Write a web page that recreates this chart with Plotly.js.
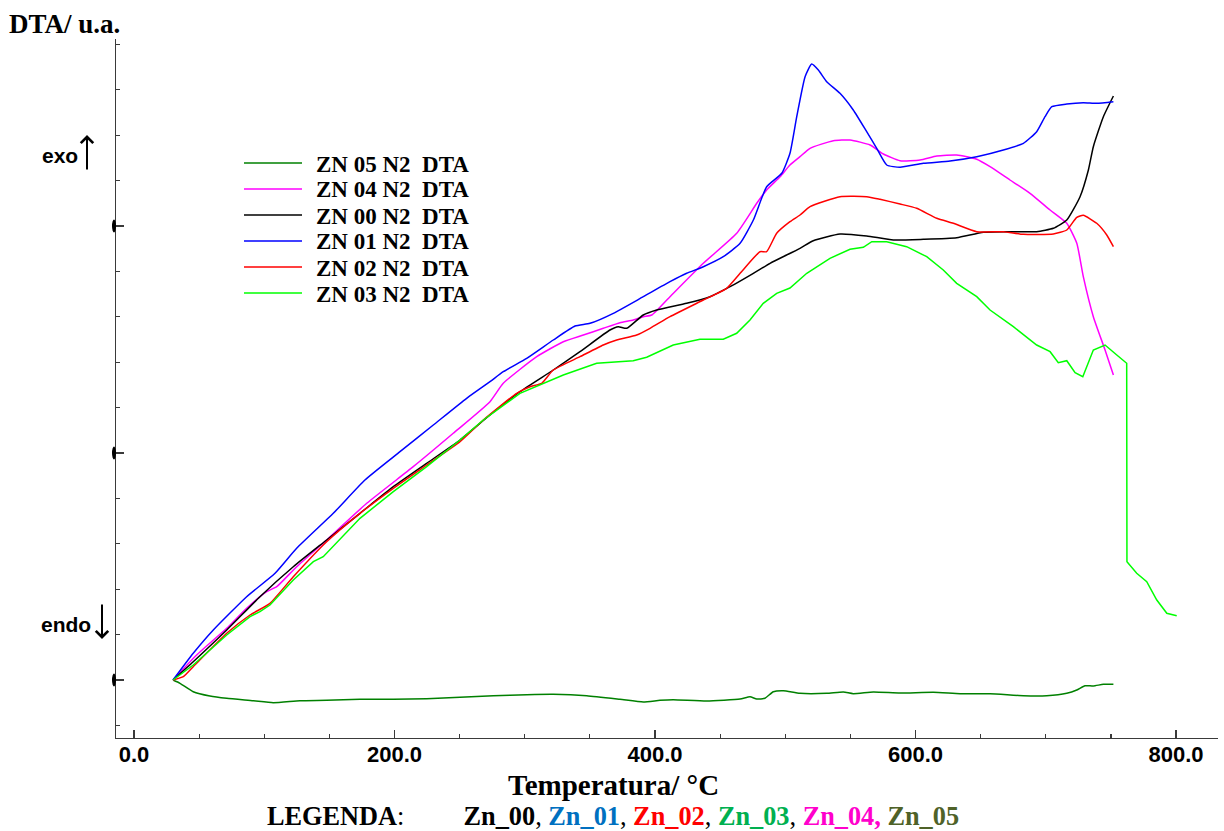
<!DOCTYPE html>
<html>
<head>
<meta charset="utf-8">
<script src="https://cdn.plot.ly/plotly-3.0.1.min.js"></script>
<style>
  html, body { margin: 0; padding: 0; background: #ffffff; }
  #chart { width: 1224px; height: 831px; }
</style>
</head>
<body>
<div id="chart"></div>
<script>
// ---- Data (temperature in °C, DTA signal in arbitrary units) ----
var seriesNames = ["ZN 05 N2\u00A0 DTA", "ZN 04 N2\u00A0 DTA", "ZN 00 N2\u00A0 DTA", "ZN 01 N2\u00A0 DTA", "ZN 02 N2\u00A0 DTA", "ZN 03 N2\u00A0 DTA"];
var seriesColors = ["#008000", "#FF00FF", "#000000", "#0000FF", "#FF0000", "#00FF00"];

var zn05_T = [30,35.3,45.5,58.3,71.2,91.6,106.9,127.4,147.9,173.5,199.1,224.7,250.3,275.9,301.5,321.9,347.6,373.1,391.0,403.8,414.0,439.7,465.3,472.9,478.1,484.4,490.8,498.5,511.3,531.8,544.6,552.2,567.6,588.1,613.7,634.2,657.2,682.8,700.7,716.1,723.8,730.1,736.5,744.2,751.9];
var zn05_V = [0,-3.3,-11.7,-16,-18.3,-20.7,-22.7,-20.7,-20.3,-19.3,-19.3,-18.7,-17.3,-15.7,-14.7,-14.3,-15.7,-19.3,-22,-20.3,-19.7,-21,-19,-16.7,-19,-18.3,-11.7,-10.7,-13.3,-13.3,-12,-13.7,-12,-13,-12.3,-13.7,-13.7,-15.7,-15.7,-13.3,-10,-5.7,-6,-4.3,-4.3];

var zn04_T = [30,48.1,71.2,86.5,101.9,109.6,124.9,147.9,178.7,214.4,245.1,273.3,283.5,309.2,329.6,345.0,360.3,373.1,383.3,391.0,397.5,411.5,437.1,462.7,478.1,485.7,496.0,503.6,511.3,519.0,536.9,549.7,565.1,575.3,588.1,603.5,616.3,631.6,647.0,657.2,672.5,687.9,703.3,716.1,723.8,728.8,736.5,745.5,751.9];
var zn04_V = [0,25,51.7,71.7,88.3,93.3,113.3,140,176.7,213.3,246.7,278.3,296.7,323.3,338.3,345,351.7,357.3,360,363.3,365,383.3,416.7,446.7,476.7,490,503.3,515,523.3,531.7,539.3,540,535,526,519.3,520,524,525,520.7,513.3,500,486.7,470,456.7,436.7,403.3,363.3,330,305];

var zn00_T = [30,45.5,71.2,96.7,122.3,147.9,173.5,199.1,224.7,250.3,273.3,296.3,321.9,342.4,365.4,371.8,378.3,391.0,401.3,424.3,442.2,457.6,475.5,488.3,511.3,521.5,542.0,562.5,583.0,606.0,631.6,652.1,672.5,693.0,705.8,716.1,726.3,732.7,736.5,744.2,751.9];
var zn00_V = [0,18.3,50,83.3,113.3,140,166.7,193.3,216.7,240,265,288.3,310,328.3,350,353.3,351.7,365,370,376.7,383.3,393.3,406.7,416.7,431.7,439.3,446,444,440,440.7,442.3,447.7,448.3,448.3,451.7,460,483.3,510,533.3,563.3,584];

var zn01_T = [30,45.5,60.9,86.5,108.3,124.9,153.0,177.3,204.2,229.8,255.4,273.3,283.5,301.5,321.9,338.6,350.1,368.0,391.0,411.5,424.3,437.1,452.4,465.3,475.5,485.7,497.3,503.6,508.8,515.2,520.3,525.4,531.8,542.0,552.2,562.5,570.2,577.9,588.1,606.0,626.5,647.0,667.4,682.8,693.0,699.4,704.6,716.1,728.8,739.1,751.9];
var zn01_V = [0,26.7,50,83.3,106.7,131.7,166.7,200,228.3,255,281.7,298.3,308.3,321.7,340,354,356.7,366.7,383.3,398.3,406.7,413.3,423.3,436.7,460,493.3,506.7,526.7,563.3,603.3,616,610,598.3,586.7,570,548.3,531.7,515,512.7,516.7,519,523.3,530,536.7,548.3,563.3,573.3,576,577.3,576.7,578.3];

var zn02_T = [30,37.9,45.5,71.2,89.1,104.4,122.3,147.9,173.5,199.1,224.7,250.3,268.2,293.8,304.0,313.0,321.9,342.4,360.3,370.6,385.9,396.2,411.5,437.1,455.0,465.3,480.6,485.7,493.4,503.6,511.3,519.0,542.0,562.5,572.7,588.1,600.9,616.3,629.0,647.0,667.4,682.8,705.8,716.1,723.8,728.8,739.1,746.8,751.9];
var zn02_V = [0,3.3,13.3,46.7,65,76.7,103.3,138.3,166.7,191.7,215,238.3,260,286.7,293.3,296.7,310,323.3,335,340,345,351.7,363.3,380,391.7,406.7,428.3,428.3,446.7,458.3,465,473.3,483.3,483.3,480.7,476,471.7,461.7,456.7,448.3,448.3,445.7,446,450,462.7,464.7,456.7,445,433.3];

var zn03_T = [30,45.5,71.2,89.1,96.7,104.4,122.3,137.7,145.3,173.5,199.1,224.7,250.3,268.2,296.3,329.6,355.2,383.3,393.6,414.0,434.5,452.4,462.7,472.9,483.1,493.4,503.6,516.5,534.3,549.7,559.9,566.4,577.9,593.2,608.6,621.3,631.6,647.0,657.2,675.1,693.0,703.3,709.6,716.1,722.5,728.4,736.5,745.5,754.5,762.1,762.3,769.8,777.5,785.2,792.9,800.5];
var zn03_V = [0,15,45,63.3,68.3,75,100,118.3,123.3,161.7,188.3,213.3,240,260,286.7,305,316.7,319.3,322.7,335,340.7,340.7,346.7,360,376.7,386.7,392,406.7,421.7,430.7,432.7,438.3,438.3,433.3,423.3,410,396.7,383.3,370,353.3,335,328.3,317.3,319.3,307.3,303.3,330,335,325,316.7,118.3,106.7,98.3,80,66.7,64.3];

var xTickStep = 200;
var yMajorTicks = [0, 227, 454];

// bottom legend line
var legendaLabels = ["Zn_00", "Zn_01", "Zn_02", "Zn_03", "Zn_04", "Zn_05"];
var legendaColors = ["#000000", "#0070C0", "#FF0000", "#00B050", "#FF00CC", "#4F6228"];

// ---- Build chart ----
var xs = [zn05_T, zn04_T, zn00_T, zn01_T, zn02_T, zn03_T];
var ys = [zn05_V, zn04_V, zn00_V, zn01_V, zn02_V, zn03_V];

var traces = xs.map(function (x, i) {
  var isDrop = (i === 5);
  return {
    type: "scatter", mode: "lines", x: x, y: ys[i], name: seriesNames[i],
    line: isDrop ? { color: seriesColors[i], width: 1.5 }
                 : { color: seriesColors[i], width: 1.5, shape: "spline", smoothing: 0.5 },
    showlegend: false, hoverinfo: "skip"
  };
});

var serif = "Liberation Serif, Times New Roman, serif";
var sans = "Liberation Sans, Arial, sans-serif";

var W = 1224, H = 831, ml = 116, mr = 6, mt = 39, mb = 93;
var pw = W - ml - mr, ph = H - mt - mb;
function px2paperX(px) { return (px - ml) / pw; }
function px2paperY(py) { return (H - mb - py) / ph; }

var annotations = [];
var shapes = [];

// manual legend
var legX0 = 244, legX1 = 302, legTextX = 314, legY0 = 163, legStep = 26;
seriesNames.forEach(function (n, i) {
  var yy = legY0 + i * legStep;
  shapes.push({ type: "line", xref: "paper", yref: "paper",
    x0: px2paperX(legX0), x1: px2paperX(legX1), y0: px2paperY(yy), y1: px2paperY(yy),
    line: { color: seriesColors[i], width: 1.5 } });
  annotations.push({ xref: "paper", yref: "paper", x: px2paperX(legTextX), y: px2paperY(yy + 1),
    xanchor: "left", yanchor: "middle", showarrow: false, text: n,
    font: { family: serif, size: 23, color: "#000", weight: "bold" } });
});

// y major tick marks (small dark ellipses outside the axis)
yMajorTicks.forEach(function (v) {
  shapes.push({ type: "circle", xref: "paper", yref: "y", xsizemode: "pixel", ysizemode: "pixel",
    xanchor: 0, yanchor: v, x0: -4, x1: 0, y0: -6.5, y1: 6.5,
    fillcolor: "#000", line: { width: 0 } });
});

// labels
annotations.push({ xref: "paper", yref: "paper", x: px2paperX(7), y: px2paperY(24),
  xanchor: "left", yanchor: "middle", showarrow: false, text: "DTA/ u.a.",
  font: { family: serif, size: 27, color: "#000", weight: "bold" } });
annotations.push({ xref: "paper", yref: "paper", x: px2paperX(40), y: px2paperY(155),
  xanchor: "left", yanchor: "middle", showarrow: false, text: "exo",
  font: { family: sans, size: 21, color: "#000", weight: "bold" } });
annotations.push({ xref: "paper", yref: "paper", x: px2paperX(87), y: px2paperY(135),
  axref: "pixel", ayref: "pixel", ax: 0, ay: 36, text: "", showarrow: true,
  arrowhead: 4, arrowwidth: 2, arrowsize: 1.2, arrowcolor: "#000", standoff: 0, startstandoff: 0 });
annotations.push({ xref: "paper", yref: "paper", x: px2paperX(39), y: px2paperY(624),
  xanchor: "left", yanchor: "middle", showarrow: false, text: "endo",
  font: { family: sans, size: 21, color: "#000", weight: "bold" } });
annotations.push({ xref: "paper", yref: "paper", x: px2paperX(102), y: px2paperY(639),
  axref: "pixel", ayref: "pixel", ax: 0, ay: -36, text: "", showarrow: true,
  arrowhead: 4, arrowwidth: 2, arrowsize: 1.2, arrowcolor: "#000", standoff: 0, startstandoff: 0 });
annotations.push({ xref: "paper", yref: "paper", x: px2paperX(613), y: px2paperY(785),
  xanchor: "center", yanchor: "middle", showarrow: false, text: "Temperatura/ \u00B0C",
  font: { family: serif, size: 29, color: "#000", weight: "bold" } });

var legendaText = "<b>LEGENDA</b>:" + "\u00A0".repeat(9);
legendaLabels.forEach(function (l, i) {
  var sep = i < legendaLabels.length - 1 ? ", " : "";
  if (i === 4) {
    legendaText += '<span style="color:' + legendaColors[i] + '"><b>' + l + ",</b></span> ";
  } else {
    legendaText += '<span style="color:' + legendaColors[i] + '"><b>' + l + "</b></span>" + sep;
  }
});
annotations.push({ xref: "paper", yref: "paper", x: px2paperX(613), y: px2paperY(816),
  xanchor: "center", yanchor: "middle", showarrow: false, text: legendaText,
  font: { family: serif, size: 26.3, color: "#000" } });

var axisColor = "#3a3a3a";
var layout = {
  width: W, height: H,
  margin: { l: ml, r: mr, t: mt, b: mb, pad: 0 },
  paper_bgcolor: "#fff", plot_bgcolor: "#fff",
  showlegend: false,
  xaxis: {
    range: [-13.8, 832.2], showgrid: false, zeroline: false,
    showline: true, linecolor: axisColor, linewidth: 1.3,
    ticks: "inside", ticklen: 8, tickwidth: 1.2, tickcolor: axisColor,
    tickmode: "linear", tick0: 0, dtick: xTickStep, tickformat: ".1f",
    ticklabelstandoff: -4,
    tickfont: { family: sans, size: 22, color: "#000", weight: "bold" },
    minor: { ticks: "inside", ticklen: 4, tickwidth: 1.2, tickcolor: axisColor, dtick: 50, tick0: 0, showgrid: false },
    title: { text: "" }
  },
  yaxis: {
    range: [-58, 641], showgrid: false, zeroline: false,
    showline: true, linecolor: axisColor, linewidth: 1.3,
    ticks: "inside", ticklen: 8, tickwidth: 1.2, tickcolor: axisColor,
    tickmode: "linear", tick0: 0, dtick: 227, showticklabels: false,
    minor: { ticks: "inside", ticklen: 4, tickwidth: 1.2, tickcolor: axisColor, dtick: 45.4, tick0: 0, showgrid: false },
    title: { text: "" }
  },
  annotations: annotations,
  shapes: shapes
};

Plotly.newPlot("chart", traces, layout, { displayModeBar: false, staticPlot: true });
</script>
</body>
</html>
